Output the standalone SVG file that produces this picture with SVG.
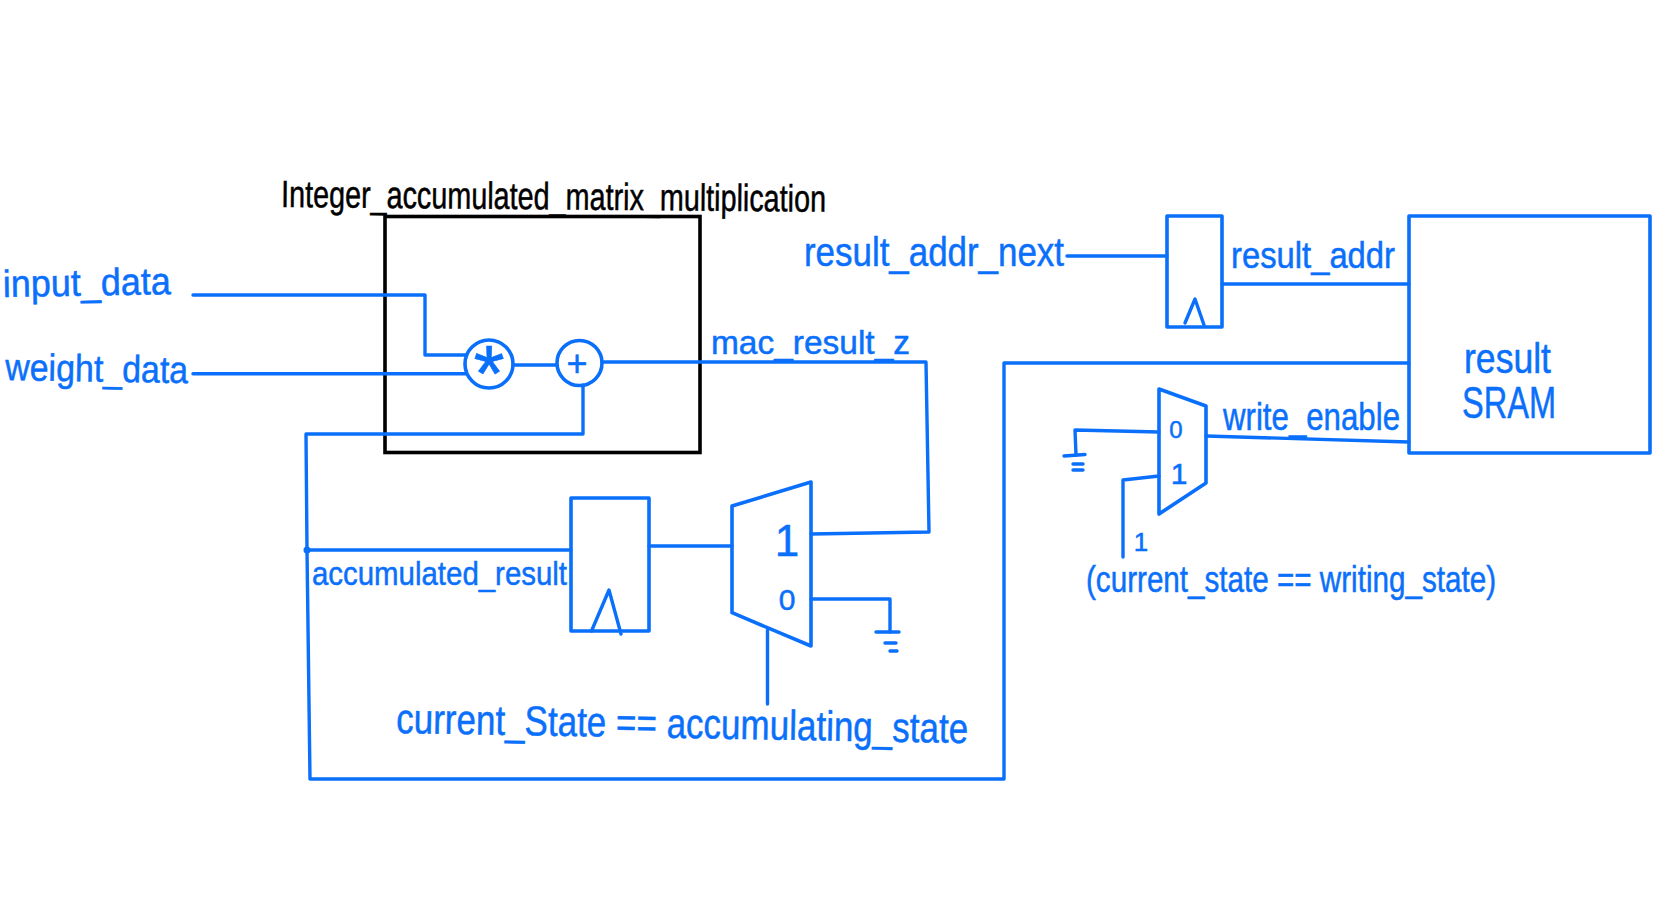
<svg xmlns="http://www.w3.org/2000/svg" width="1676" height="922" viewBox="0 0 1676 922">
<style>
.w{fill:none;stroke:#0a70fb;stroke-width:3.4;stroke-linejoin:round;stroke-linecap:round}
.b{fill:none;stroke:#0a70fb;stroke-width:3.6;stroke-linejoin:round}
.k{fill:none;stroke:#000;stroke-width:3.6}
.t{font-family:"Liberation Sans",Arial,sans-serif;fill:#0a70fb;stroke:#0a70fb;stroke-width:.5}
.kt{font-family:"Liberation Sans",Arial,sans-serif;fill:#000;stroke:#000;stroke-width:.5}
</style>
<rect width="1676" height="922" fill="#fff"/>
<g id="mac-block">
<rect class="k" x="385" y="216.500" width="315" height="236"/>
<text class="kt" x="281" y="207" font-size="38" textLength="545" lengthAdjust="spacingAndGlyphs" transform="rotate(0.5 281 207)">Integer_accumulated_matrix_multiplication</text>
</g>
<g id="connectors">
<path class="w" d="M193 295H425V355H466"/>
<path class="w" d="M193 373.700H466"/>
<path class="w" d="M513 365H556"/>
<path class="w" d="M602 362H926L929 532L811 534"/>
<path class="w" d="M583 385V434H306L307 550L310 779H1004V363H1409"/>
<path class="w" d="M307 550H571"/>
<path class="w" d="M649 546H732"/>
<path class="w" d="M811 599H890V632"/>
<path class="w" d="M767.500 630V704"/>
<path class="w" d="M1067 256H1167"/>
<path class="w" d="M1222 284H1409"/>
<path class="w" d="M1206 436L1409 442"/>
<path class="w" d="M1159 432L1075 430L1076 455"/>
<path class="w" d="M1159 476L1123 480V557"/>
<circle cx="307" cy="550" r="3.500" fill="#0a70fb"/>
</g>
<g id="ground-1">
<path class="w" d="M876 632H899M885 643H896M890 651H897"/>
</g>
<g id="ground-2">
<path class="w" d="M1064 456L1085 454.500M1073 464H1083M1073 470H1083"/>
</g>
<g id="input-data"><text class="t" x="3" y="297" font-size="38" textLength="168" lengthAdjust="spacingAndGlyphs" transform="rotate(-1 3 297)">input_data</text></g>
<g id="weight-data"><text class="t" x="5" y="380" font-size="38" textLength="183" lengthAdjust="spacingAndGlyphs" transform="rotate(1 5 380)">weight_data</text></g>
<g id="multiplier">
<circle class="b" cx="489" cy="364" r="24"/>
<text class="t" x="489" y="401" font-size="80" text-anchor="middle">*</text>
</g>
<g id="adder">
<circle class="b" cx="579.500" cy="363" r="22.500"/>
<text class="t" x="577" y="376" font-size="36" text-anchor="middle">+</text>
</g>
<g id="mac-result-label"><text class="t" x="711" y="354" font-size="34" textLength="199" lengthAdjust="spacingAndGlyphs">mac_result_z</text></g>
<g id="accumulator-register">
<rect class="b" x="571" y="498" width="78" height="133"/>
<path class="w" d="M591.500 631L609 590L621 634"/>
</g>
<g id="accumulated-result-label"><text class="t" x="312" y="585" font-size="34" textLength="255" lengthAdjust="spacingAndGlyphs">accumulated_result</text></g>
<g id="accumulator-mux">
<path class="b" d="M732 506L811 482V646L732 612.700Z"/>
<text class="t" x="787" y="556" font-size="44" text-anchor="middle">1</text>
<text class="t" x="787" y="610" font-size="30" text-anchor="middle">0</text>
</g>
<g id="accumulating-label"><text class="t" x="396" y="733" font-size="42" textLength="572" lengthAdjust="spacingAndGlyphs" transform="rotate(1 396 733)">current_State == accumulating_state</text></g>
<g id="next-label"><text class="t" x="804" y="266" font-size="40" textLength="260" lengthAdjust="spacingAndGlyphs">result_addr_next</text></g>
<g id="address-register">
<rect class="b" x="1167" y="216" width="55" height="111"/>
<path class="w" d="M1185 323L1195 299L1204 325"/>
</g>
<g id="result-addr-label"><text class="t" x="1231" y="268" font-size="36" textLength="164" lengthAdjust="spacingAndGlyphs">result_addr</text></g>
<g id="result-sram">
<rect class="b" x="1409" y="216" width="241" height="237"/>
<text class="t" x="1464" y="373" font-size="42" textLength="87" lengthAdjust="spacingAndGlyphs">result</text>
<text class="t" x="1462" y="418" font-size="44" textLength="94" lengthAdjust="spacingAndGlyphs">SRAM</text>
</g>
<g id="write-mux">
<path class="b" d="M1159 389L1206 406V483L1159 514Z"/>
<text class="t" x="1176" y="438" font-size="24" text-anchor="middle">0</text>
<text class="t" x="1179" y="484" font-size="30" text-anchor="middle">1</text>
</g>
<g id="write-enable-label"><text class="t" x="1223" y="430" font-size="38" textLength="177" lengthAdjust="spacingAndGlyphs">write_enable</text></g>
<g id="one-label"><text class="t" x="1141" y="551" font-size="26" text-anchor="middle">1</text></g>
<g id="writing-label"><text class="t" x="1086" y="592" font-size="36" textLength="410" lengthAdjust="spacingAndGlyphs">(current_state == writing_state)</text></g>
</svg>
